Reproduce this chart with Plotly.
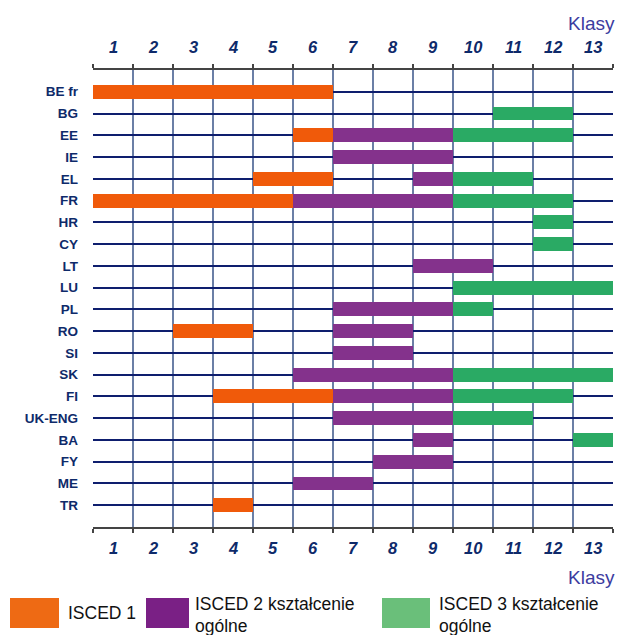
import plotly.graph_objects as go

countries = ["BE fr", "BG", "EE", "IE", "EL", "FR", "HR", "CY", "LT", "LU",
             "PL", "RO", "SI", "SK", "FI", "UK-ENG", "BA", "FY", "ME", "TR"]
grades = [str(i) for i in range(1, 14)]

# (country, first grade, last grade) for each level
isced1 = [("BE fr", 1, 6), ("EE", 6, 6), ("EL", 5, 6), ("FR", 1, 5),
          ("RO", 3, 4), ("FI", 4, 6), ("TR", 4, 4)]
isced2 = [("EE", 7, 9), ("IE", 7, 9), ("EL", 9, 9), ("FR", 6, 9), ("LT", 9, 10),
          ("PL", 7, 9), ("RO", 7, 8), ("SI", 7, 8), ("SK", 6, 9), ("FI", 7, 9),
          ("UK-ENG", 7, 9), ("BA", 9, 9), ("FY", 8, 9), ("ME", 6, 7)]
isced3 = [("BG", 11, 12), ("EE", 10, 12), ("EL", 10, 11), ("FR", 10, 12), ("HR", 12, 12),
          ("CY", 12, 12), ("LU", 10, 13), ("PL", 10, 10), ("SK", 10, 13), ("FI", 10, 12),
          ("UK-ENG", 10, 11), ("BA", 13, 13)]

legend_labels = ["ISCED 1", "ISCED 2 kształcenie|ogólne", "ISCED 3 kształcenie|ogólne"]
axis_title = "Klasy"

bar_colors = ["#F05A0A", "#84328C", "#2AAA64"]
legend_colors = ["#EE6A14", "#7A2085", "#6ABF7A"]
NAVY = "#0E2A6A"
SANS = "Liberation Sans, Arial, sans-serif"

W, H = 620, 635
L, R, T, B = 93, 613, 70, 527


def px(xp):
    return (xp - L) / (R - L)


def py(yp):
    return (B - yp) / (B - T)


fig = go.Figure()
for name, data, col in zip(legend_labels, [isced1, isced2, isced3], bar_colors):
    fig.add_trace(go.Bar(
        orientation="h",
        y=[countries.index(c) for c, a, b in data],
        base=[a - 1 for c, a, b in data],
        x=[b - a + 1 for c, a, b in data],
        width=0.64,
        marker=dict(color=col, line=dict(width=0)),
        name=name.replace("|", " "),
        showlegend=False,
        hoverinfo="skip",
    ))

annotations = []
for i, g in enumerate(grades):
    for yp in (47, 548):
        annotations.append(dict(
            x=i + 0.5, xref="x", y=py(yp), yref="paper", text="<b><i>%s</i></b>" % g,
            showarrow=False, font=dict(family=SANS, size=16.5, color=NAVY),
            xanchor="center", yanchor="middle"))
for yp in (23, 577):
    annotations.append(dict(
        x=px(617), xref="paper", y=py(yp), yref="paper", text=axis_title,
        showarrow=False, font=dict(family=SANS, size=19, color="#3C3CA0"),
        xanchor="right", yanchor="middle"))

shapes = []
sw_boxes = [(10, 59), (146, 189), (382, 430)]
text_x = [66, 193, 437]
for (x0, x1), col, lab, tx in zip(sw_boxes, legend_colors, legend_labels, text_x):
    shapes.append(dict(type="rect", xref="paper", yref="paper",
                       x0=px(x0), x1=px(x1), y0=py(598), y1=py(628),
                       fillcolor=col, line=dict(width=0), layer="above"))
    parts = lab.split("|")
    if len(parts) == 1:
        ys = [613]
    else:
        ys = [604, 626]
    for part, yp in zip(parts, ys):
        annotations.append(dict(
            x=px(tx), xref="paper", y=py(yp), yref="paper", text=part,
            showarrow=False, font=dict(family=SANS, size=17.5, color="#111111"),
            xanchor="left", yanchor="middle"))

fig.update_layout(
    width=W, height=H,
    margin=dict(l=L, r=W - R, t=T, b=H - B, pad=0),
    paper_bgcolor="white", plot_bgcolor="white",
    barmode="overlay",
    bargap=0,
    xaxis=dict(range=[0, 13], tickvals=list(range(14)), showticklabels=False,
               showgrid=True, gridcolor="#6B7FA6", gridwidth=1.5, zeroline=False,
               showline=True, linecolor="#444444", linewidth=2, mirror="ticks",
               ticks="outside", ticklen=4, tickcolor="#444444", tickwidth=1.5),
    yaxis=dict(range=[20, -1], tickvals=list(range(len(countries))),
               ticktext=["<b>%s</b>" % c for c in countries],
               tickfont=dict(family=SANS, size=13.5, color=NAVY),
               showgrid=True, gridcolor="#0E1E6E", gridwidth=1.5, zeroline=False,
               showline=False, ticks="", ticklabelstandoff=14),
    annotations=annotations,
    shapes=shapes,
)

fig.write_html("out.html", config={"displayModeBar": False},
               post_script="document.body.style.margin='0';document.body.style.padding='0';")
